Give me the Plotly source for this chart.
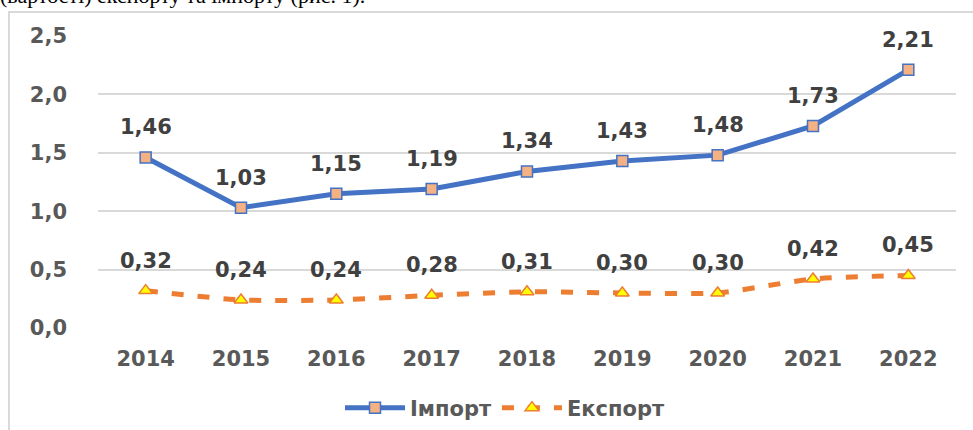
import plotly.graph_objects as go

years = ["2014", "2015", "2016", "2017", "2018", "2019", "2020", "2021", "2022"]
import_vals = [1.46, 1.03, 1.15, 1.19, 1.34, 1.43, 1.48, 1.73, 2.21]
export_vals = [0.32, 0.24, 0.24, 0.28, 0.31, 0.30, 0.30, 0.42, 0.45]
y_ticks = [0.0, 0.5, 1.0, 1.5, 2.0, 2.5]
series_names = ["Імпорт", "Експорт"]
caption = "(вартості) експорту та імпорту (рис. 1)."

W, H = 973, 430
L, R, T, B = 98, 17, 36, 102
pw, ph = W - L - R, H - T - B

def px_x(p):
    return (p - L) / pw

def px_y(p):
    return 1 + (T - p) / ph

FONT = "DejaVu Sans"

fig = go.Figure()
fig.add_trace(go.Scatter(
    x=years, y=import_vals, name=series_names[0], mode="lines+markers",
    line=dict(color="#4472C4", width=5),
    marker=dict(symbol="square", size=11, color="#F4B183",
                line=dict(color="#4472C4", width=1.5)),
))
fig.add_trace(go.Scatter(
    x=years, y=export_vals, name=series_names[1], mode="lines+markers",
    line=dict(color="#ED7D31", width=5, dash="12px,14px", shape="spline", smoothing=0.6),
    marker=dict(symbol="triangle-up", size=12, color="#FFFF00",
                line=dict(color="#ED7D31", width=1.5)),
))

ann = []
for ys in (import_vals, export_vals):
    for i, yv in enumerate(ys):
        ann.append(dict(x=i, y=yv, xref="x", yref="y",
                        text="<b>" + f"{yv:.2f}".replace(".", ",") + "</b>",
                        showarrow=False, yshift=30,
                        font=dict(family=FONT, size=21, color="#404040")))
ann.append(dict(x=px_x(-2), y=px_y(-4), xref="paper", yref="paper", text=caption,
                showarrow=False, xanchor="left", yanchor="middle",
                font=dict(family="Liberation Serif", size=22, color="#000000")))

fig.update_layout(
    width=W, height=H,
    margin=dict(l=L, r=R, t=T, b=B, autoexpand=False),
    paper_bgcolor="white", plot_bgcolor="white",
    separators=", ",
    annotations=ann,
    shapes=[dict(type="rect", xref="paper", yref="paper",
                 x0=px_x(9), x1=px_x(W + 20), y0=px_y(12), y1=px_y(H + 20),
                 line=dict(color="#D9D9D9", width=2), fillcolor="rgba(0,0,0,0)", layer="below")],
    showlegend=True,
    legend=dict(orientation="h", x=px_x(505), y=px_y(408), xanchor="center", yanchor="middle",
                font=dict(family=FONT, size=21, color="#595959", weight="bold"),
                itemwidth=60, bgcolor="rgba(0,0,0,0)"),
    xaxis=dict(type="category", range=[-0.5, len(years) - 0.5], showgrid=False,
               showline=False, ticks="", ticklabelstandoff=16,
               tickfont=dict(family=FONT, size=21, color="#595959", weight="bold")),
    yaxis=dict(range=[0, 2.5], tickvals=y_ticks, tickformat=".1f", showgrid=True,
               gridcolor="#D9D9D9", gridwidth=1.5, zeroline=False, showline=False,
               ticks="", ticklabelstandoff=30,
               tickfont=dict(family=FONT, size=21, color="#595959", weight="bold")),
)

fig.write_html("out.html", config={"displayModeBar": False},
               post_script="document.body.style.margin='0';document.body.style.overflow='hidden';")
